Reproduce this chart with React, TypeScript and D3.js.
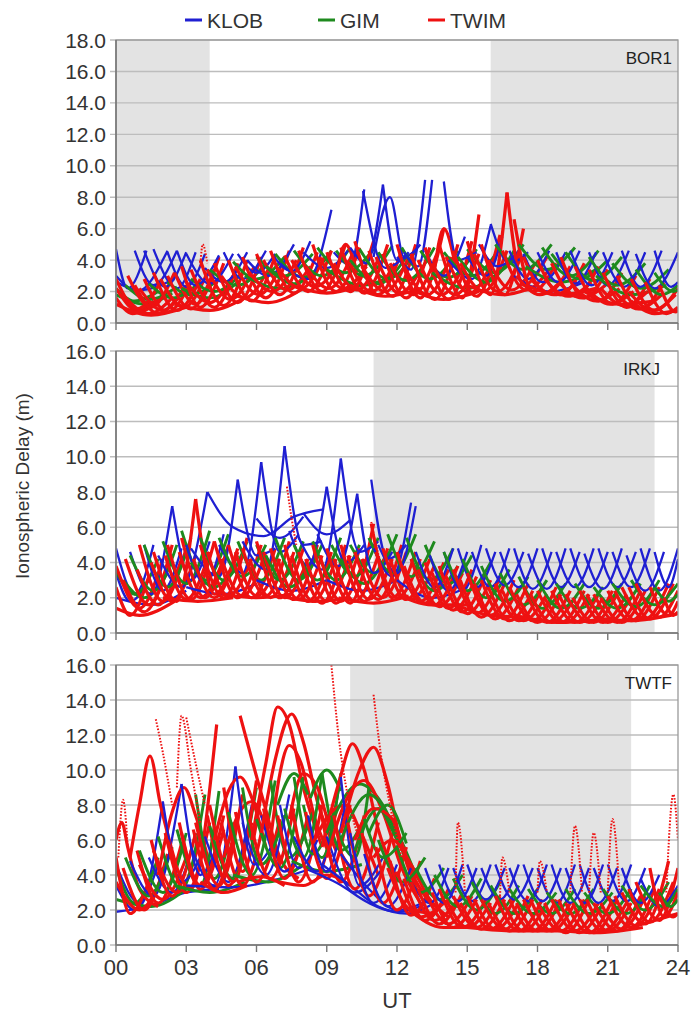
import React from "react";
import * as d3 from "d3";

// ---------- axis / layout data ----------
const X_TICKS = [0, 3, 6, 9, 12, 15, 18, 21, 24];
const X_TICK_LABELS = ["00", "03", "06", "09", "12", "15", "18", "21", "24"];
const Y_TICKS_18 = [0, 2, 4, 6, 8, 10, 12, 14, 16, 18];
const Y_TICKS_16 = [0, 2, 4, 6, 8, 10, 12, 14, 16];
const STATIONS = ["BOR1", "IRKJ", "TWTF"];
const SERIES = ["KLOB", "GIM", "TWIM"];
const SERIES_COLORS = ["#1f1fd2", "#1e8a1e", "#ee1111"];

// night-time shading (UT hours)
const BOR1_SHADE = [[0, 4], [16, 24]];
const IRKJ_SHADE = [[11, 23]];
const TWTF_SHADE = [[10, 22]];

// ---------- satellite arcs: [t, value, t, value, ...] ----------
const BOR1_KLOB = [
  [0.0, 4.7, 0.5, 2.2, 1.3, 4.6], [0.0, 3.0, 0.9, 2.0, 2.2, 4.6], [0.0, 2.6, 1.0, 2.1, 2.5, 2.8],
  [0.8, 4.6, 1.6, 2.4, 2.6, 4.6], [1.2, 4.6, 2.1, 2.3, 3.0, 4.5], [1.6, 4.7, 2.6, 2.2, 3.4, 4.5],
  [2.2, 4.5, 3.0, 2.3, 3.8, 4.4], [2.6, 4.6, 3.4, 2.4, 4.4, 4.3], [3.0, 4.4, 4.0, 2.5, 5.0, 4.4],
  [3.8, 3.5, 4.6, 2.6, 5.6, 4.5], [4.6, 4.5, 5.4, 2.8, 6.4, 4.6], [5.2, 4.4, 6.0, 3.2, 6.8, 4.4],
  [5.6, 4.0, 6.5, 3.0, 7.6, 5.0], [6.6, 4.5, 7.5, 3.3, 8.3, 5.2], [7.0, 3.8, 8.2, 2.8, 9.2, 7.2],
  [8.0, 4.5, 9.0, 3.5, 9.9, 4.6], [9.3, 4.5, 10.0, 3.7, 10.6, 8.5], [10.0, 4.8, 10.7, 3.8, 11.4, 8.8],
  [10.55, 8.4, 11.5, 3.5, 12.5, 4.5], [11.4, 8.8, 12.0, 4.0, 12.8, 4.6], [11.0, 4.2, 11.7, 8.0, 12.3, 4.2, 13.0, 5.0],
  [12.0, 4.2, 12.6, 3.4, 13.2, 9.1], [12.3, 4.5, 12.9, 3.6, 13.5, 9.1], [14.0, 9.0, 14.6, 4.0, 15.4, 4.5],
  [13.2, 4.6, 14.0, 3.0, 14.9, 5.5], [14.2, 4.0, 15.2, 2.8, 16.0, 6.2], [15.0, 4.2, 15.8, 3.0, 16.5, 5.5],
  [15.5, 5.0, 16.3, 3.6, 17.2, 4.6], [16.0, 6.3, 16.8, 3.8, 17.6, 4.5],
  [16.8, 4.6, 17.6, 2.8, 18.5, 4.6], [17.4, 4.4, 18.2, 2.6, 19.2, 4.5], [18.0, 4.5, 18.9, 2.6, 19.8, 4.6],
  [18.8, 4.5, 19.6, 2.5, 20.5, 4.5], [19.4, 4.6, 20.3, 2.4, 21.2, 4.5], [20.2, 4.5, 21.0, 2.4, 21.9, 4.6],
  [20.8, 4.5, 21.7, 2.3, 22.6, 4.5], [21.6, 4.6, 22.4, 2.3, 23.3, 4.6], [22.2, 4.4, 23.0, 2.2, 24.0, 4.5],
  [23.0, 4.6, 23.7, 2.3, 24.0, 2.6], [17.0, 3.0, 18.5, 2.0, 20.0, 2.6],
];
const BOR1_GIM = [
  [0.0, 2.2, 0.8, 1.4, 1.8, 2.0], [0.4, 2.4, 1.4, 1.5, 2.6, 2.3], [1.4, 2.5, 2.4, 1.6, 3.6, 2.6],
  [2.2, 2.6, 3.2, 1.8, 4.4, 2.8], [3.2, 2.8, 4.2, 2.0, 5.4, 3.2], [4.0, 3.4, 5.2, 2.4, 6.4, 3.8],
  [5.0, 3.9, 6.0, 2.8, 7.2, 4.2], [6.0, 4.2, 7.2, 3.0, 8.4, 4.4], [6.8, 4.4, 8.0, 2.9, 9.2, 4.6],
  [7.6, 4.6, 8.8, 3.0, 10.0, 4.8], [8.6, 4.8, 9.8, 3.2, 11.0, 4.7], [9.4, 4.6, 10.6, 3.0, 11.8, 4.9],
  [10.4, 4.7, 11.6, 2.8, 12.8, 4.6], [11.2, 4.5, 12.4, 2.7, 13.6, 4.8], [12.2, 4.8, 13.4, 2.8, 14.6, 4.6],
  [13.0, 4.6, 14.2, 2.9, 15.4, 4.7], [14.0, 4.5, 15.2, 3.0, 16.4, 4.8], [15.0, 4.7, 16.2, 3.2, 17.4, 5.0],
  [16.2, 5.0, 17.4, 3.4, 18.6, 5.0], [17.2, 5.0, 18.4, 3.4, 19.6, 4.8], [18.2, 4.8, 19.4, 3.0, 20.6, 4.6],
  [19.2, 4.5, 20.4, 2.7, 21.6, 4.2], [20.2, 4.2, 21.4, 2.4, 22.6, 3.8], [21.2, 3.8, 22.4, 2.2, 23.6, 3.4],
  [22.2, 3.4, 23.3, 1.8, 24.0, 2.4], [23.0, 3.2, 23.8, 2.0, 24.0, 2.1],
  [5.5, 3.0, 7.0, 2.2, 8.5, 3.2], [9.0, 3.4, 10.5, 2.4, 12.0, 3.2], [13.5, 3.2, 15.0, 2.2, 16.5, 3.4],
  [17.5, 3.6, 19.0, 2.6, 20.5, 3.4], [20.5, 3.0, 22.0, 1.8, 23.5, 2.4],
  [0.0, 1.8, 1.2, 1.2, 2.4, 1.9], [2.8, 2.2, 4.0, 1.6, 5.2, 2.6], [6.4, 3.6, 7.6, 2.5, 8.8, 3.8],
  [10.0, 4.0, 11.2, 2.5, 12.4, 4.2], [14.6, 4.2, 15.8, 2.6, 17.0, 4.6], [18.6, 4.4, 19.8, 2.8, 21.0, 4.0],
];
const BOR1_TWIM = [
  [0.0, 1.6, 0.7, 0.6, 1.6, 1.4], [0.0, 2.2, 1.0, 0.7, 2.0, 1.8], [0.3, 1.8, 1.4, 0.6, 2.4, 1.6],
  [0.8, 2.4, 1.8, 0.6, 2.8, 2.0], [1.2, 2.8, 2.2, 0.7, 3.2, 2.6], [1.6, 3.2, 2.6, 0.8, 3.6, 2.8],
  [2.2, 3.0, 3.2, 0.9, 4.2, 3.4], [2.8, 3.6, 3.6, 1.0, 4.6, 3.8], [3.2, 3.4, 4.2, 1.0, 5.2, 3.8],
  [3.6, 4.0, 4.6, 1.1, 5.6, 4.0], [4.2, 3.8, 5.2, 1.3, 6.2, 4.2], [4.8, 4.0, 5.8, 1.4, 6.8, 4.3],
  [5.4, 4.2, 6.4, 1.6, 7.4, 4.6], [6.0, 4.4, 7.0, 1.8, 8.0, 4.8], [6.6, 4.6, 7.6, 1.9, 8.6, 4.5],
  [7.2, 4.3, 8.2, 2.0, 9.2, 4.6], [7.8, 4.6, 8.8, 2.0, 9.8, 5.0], [8.4, 5.0, 9.4, 2.0, 10.4, 4.8],
  [9.0, 4.5, 10.0, 2.0, 11.0, 5.2], [9.6, 4.8, 10.6, 1.9, 11.6, 5.0], [10.2, 5.2, 11.2, 1.8, 12.2, 4.6],
  [10.8, 4.6, 11.8, 1.7, 12.8, 5.0], [11.4, 4.4, 12.4, 1.6, 13.4, 4.8], [12.0, 5.0, 13.0, 1.6, 14.0, 6.0],
  [12.6, 4.4, 13.6, 1.5, 14.6, 5.0], [13.2, 4.8, 14.2, 1.5, 15.2, 5.2], [13.8, 5.0, 14.8, 1.6, 15.5, 6.9],
  [14.4, 4.6, 15.4, 1.7, 16.4, 5.6], [15.0, 5.2, 16.0, 1.8, 16.7, 8.3], [15.6, 5.0, 16.6, 1.8, 17.4, 6.0],
  [16.7, 8.3, 17.4, 2.4, 18.4, 4.2], [17.0, 6.6, 17.8, 2.0, 18.8, 3.8],
  [17.4, 4.2, 18.4, 1.9, 19.4, 3.6], [18.0, 4.0, 19.0, 1.8, 20.0, 3.8], [18.6, 3.8, 19.6, 1.7, 20.6, 3.6],
  [19.0, 4.2, 20.0, 1.6, 21.0, 3.4], [19.6, 3.6, 20.6, 1.4, 21.6, 3.2], [20.2, 3.4, 21.2, 1.2, 22.2, 3.0],
  [20.8, 3.2, 21.8, 1.0, 22.8, 2.8], [21.4, 3.0, 22.4, 0.9, 23.4, 2.6], [22.0, 2.8, 23.0, 0.8, 24.0, 2.2],
  [22.6, 2.6, 23.5, 0.6, 24.0, 1.0], [23.2, 2.4, 23.9, 0.7, 24.0, 0.8],
  [0.0, 1.2, 1.5, 0.5, 3.0, 1.0], [2.5, 1.2, 4.0, 0.8, 5.5, 1.6], [5.0, 1.8, 6.5, 1.3, 8.0, 2.2],
  [7.5, 2.4, 9.0, 1.9, 10.5, 2.4], [10.0, 2.4, 11.5, 1.7, 13.0, 2.2], [12.5, 2.2, 14.0, 1.5, 15.5, 2.0],
  [15.0, 2.4, 16.5, 1.8, 18.0, 2.4], [17.5, 2.4, 19.0, 1.8, 20.5, 2.2], [20.0, 2.0, 21.5, 1.2, 23.0, 1.4],
  [22.0, 1.4, 23.0, 0.6, 24.0, 0.8],
];
const BOR1_TWIM_EXTRA = [
  [0.0, 2.8, 0.9, 0.9, 1.9, 2.6], [0.5, 3.0, 1.5, 1.0, 2.5, 3.2], [1.0, 2.2, 2.0, 0.8, 3.0, 2.4],
  [1.9, 2.8, 2.9, 1.0, 3.9, 3.2], [2.5, 3.2, 3.4, 1.2, 4.4, 4.2], [3.0, 2.6, 4.0, 1.3, 5.0, 3.0],
  [3.9, 3.4, 4.9, 1.5, 5.9, 3.6], [4.5, 3.0, 5.5, 1.6, 6.5, 3.4], [5.1, 3.6, 6.1, 1.8, 7.1, 3.8],
  [5.7, 3.2, 6.7, 2.0, 7.7, 4.0], [6.3, 4.0, 7.3, 2.1, 8.3, 3.6], [6.9, 3.5, 7.9, 2.2, 8.9, 4.2],
  [7.5, 4.0, 8.5, 2.3, 9.5, 3.8], [8.1, 3.6, 9.1, 2.2, 10.1, 4.4], [8.7, 4.2, 9.7, 2.2, 10.7, 3.6],
  [9.3, 3.8, 10.3, 2.1, 11.3, 4.4], [9.9, 4.0, 10.9, 2.0, 11.9, 3.8], [10.5, 3.6, 11.5, 2.0, 12.5, 4.2],
  [11.1, 4.2, 12.1, 1.9, 13.1, 3.6], [11.7, 3.8, 12.7, 1.8, 13.7, 4.4], [12.3, 3.6, 13.3, 1.8, 14.3, 4.2],
  [12.9, 4.0, 13.9, 1.8, 14.9, 3.8], [13.5, 3.8, 14.5, 1.8, 15.5, 4.4], [14.1, 4.2, 15.1, 1.9, 16.1, 4.0],
  [14.7, 3.8, 15.7, 2.0, 16.7, 4.6], [15.3, 4.4, 16.3, 2.0, 17.3, 4.2], [15.9, 4.0, 16.9, 2.1, 17.9, 3.8],
  [16.5, 4.6, 17.5, 2.1, 18.5, 3.4], [17.1, 3.0, 18.1, 1.8, 19.1, 2.8], [17.7, 2.8, 18.7, 1.8, 19.7, 2.6],
  [18.3, 2.8, 19.3, 1.7, 20.3, 2.6], [18.9, 2.6, 19.9, 1.6, 20.9, 2.4], [19.5, 2.4, 20.5, 1.4, 21.5, 2.2],
  [20.1, 2.2, 21.1, 1.2, 22.1, 2.0], [20.7, 2.2, 21.7, 1.1, 22.7, 2.0], [21.3, 2.0, 22.3, 0.9, 23.3, 1.8],
  [21.9, 2.0, 22.9, 0.8, 23.9, 1.8], [9.4, 3.0, 9.8, 5.0, 10.3, 3.2], [13.6, 3.4, 14.0, 6.0, 14.5, 3.6],
];
const BOR1_TWIM_DOTTED = [[3.6, 3.6, 3.7, 5.0, 3.9, 3.8]];

const IRKJ_KLOB = [
  [0.0, 4.8, 0.8, 2.2, 1.6, 5.0], [0.0, 3.4, 0.6, 1.8, 1.4, 3.0], [0.6, 4.6, 1.5, 2.2, 2.4, 7.2],
  [1.2, 5.0, 2.0, 2.4, 2.8, 4.8], [1.8, 4.4, 2.8, 2.6, 3.9, 8.0], [2.4, 7.2, 3.2, 3.0, 4.0, 5.2],
  [3.0, 5.0, 3.8, 2.8, 4.6, 5.6], [3.2, 4.8, 4.4, 3.2, 5.2, 8.7], [4.4, 5.0, 5.4, 3.4, 6.2, 9.7],
  [5.2, 8.7, 6.0, 4.4, 6.8, 4.8], [6.2, 9.7, 7.0, 4.6, 7.8, 5.6], [5.4, 5.2, 6.4, 3.6, 7.2, 10.6],
  [7.2, 10.6, 8.0, 5.0, 8.8, 5.2], [7.4, 5.8, 8.2, 3.8, 9.0, 8.3], [7.8, 5.4, 8.8, 3.6, 9.6, 9.9],
  [9.6, 9.9, 10.4, 4.6, 11.2, 5.2], [9.0, 8.3, 9.8, 4.0, 10.6, 5.0], [8.6, 5.6, 9.5, 3.8, 10.3, 7.9],
  [10.3, 7.9, 11.0, 3.4, 11.8, 4.6], [10.9, 8.7, 11.6, 4.2, 12.4, 5.0], [11.0, 4.8, 11.8, 3.2, 12.6, 7.4],
  [11.2, 5.0, 12.0, 3.4, 12.8, 7.2], [3.9, 8.0, 5.0, 6.0, 6.3, 5.5, 7.6, 6.6, 8.8, 7.0],
  [6.0, 6.5, 7.0, 5.4, 8.0, 6.6], [8.0, 6.8, 9.0, 5.6, 10.0, 6.4],
  [0.0, 2.0, 1.5, 1.6, 3.0, 2.4], [3.0, 2.6, 4.5, 2.2, 6.0, 2.8], [6.0, 3.0, 7.5, 2.4, 9.0, 3.0],
  [9.0, 3.0, 10.5, 2.4, 12.0, 3.0], [12.0, 3.0, 13.5, 2.0, 15.0, 2.6],
  [12.8, 4.6, 13.6, 2.6, 14.4, 4.8], [13.4, 4.4, 14.2, 2.4, 15.0, 4.6], [14.0, 4.6, 14.8, 2.4, 15.6, 5.0],
  [14.6, 4.8, 15.4, 2.6, 16.2, 4.6], [15.2, 4.6, 16.0, 2.6, 16.8, 4.8], [15.8, 4.8, 16.6, 2.7, 17.4, 4.6],
  [16.4, 4.6, 17.2, 2.6, 18.0, 4.8], [17.0, 4.8, 17.8, 2.5, 18.6, 4.6], [17.6, 4.5, 18.4, 2.5, 19.2, 4.8],
  [18.2, 4.8, 19.0, 2.6, 19.8, 4.6], [18.8, 4.6, 19.6, 2.6, 20.4, 4.8], [19.4, 4.8, 20.2, 2.6, 21.0, 4.6],
  [20.0, 4.5, 20.8, 2.5, 21.6, 4.8], [20.6, 4.8, 21.4, 2.6, 22.2, 4.6], [21.2, 4.6, 22.0, 2.6, 22.8, 4.8],
  [21.8, 4.4, 22.6, 2.4, 23.4, 4.6], [22.4, 4.8, 23.2, 2.4, 24.0, 4.8], [23.0, 4.6, 23.6, 2.6, 24.0, 4.2],
];
const IRKJ_GIM = [
  [0.0, 3.5, 0.8, 2.2, 1.8, 4.2], [0.6, 4.4, 1.6, 2.4, 2.6, 5.0], [1.2, 5.0, 2.2, 2.6, 3.2, 5.4],
  [2.0, 5.2, 3.0, 2.8, 4.0, 5.8], [2.8, 5.8, 3.8, 3.0, 4.8, 5.6], [3.6, 5.4, 4.6, 3.0, 5.6, 5.2],
  [4.4, 5.4, 5.4, 3.2, 6.4, 5.0], [5.2, 5.2, 6.2, 3.0, 7.2, 5.4], [6.0, 5.0, 7.0, 3.0, 8.0, 5.2],
  [6.8, 5.4, 7.8, 3.0, 8.8, 5.0], [7.6, 5.0, 8.6, 3.0, 9.6, 5.4], [8.4, 5.2, 9.4, 3.0, 10.4, 5.0],
  [9.2, 5.0, 10.2, 3.2, 11.2, 5.4], [10.0, 5.0, 11.0, 3.4, 12.0, 5.6], [10.8, 5.4, 11.8, 3.4, 12.8, 5.6],
  [11.6, 5.6, 12.6, 3.2, 13.6, 5.2], [12.4, 5.4, 13.4, 3.0, 14.4, 4.8], [13.2, 5.0, 14.2, 2.8, 15.2, 4.4],
  [14.0, 4.6, 15.0, 2.4, 16.0, 4.0], [14.8, 4.2, 15.8, 2.0, 16.8, 3.6], [15.6, 3.8, 16.6, 1.8, 17.6, 3.2],
  [16.4, 3.4, 17.4, 1.6, 18.4, 3.0], [17.2, 3.2, 18.2, 1.4, 19.2, 2.8], [18.0, 3.0, 19.0, 1.4, 20.0, 2.8],
  [18.8, 2.8, 19.8, 1.4, 20.8, 2.6], [19.6, 2.8, 20.6, 1.4, 21.6, 2.8], [20.4, 2.6, 21.4, 1.4, 22.4, 2.8],
  [21.2, 2.8, 22.2, 1.5, 23.2, 3.0], [22.0, 3.0, 23.0, 1.6, 24.0, 2.8], [23.0, 2.6, 23.6, 1.8, 24.0, 2.2],
  [0.3, 3.0, 1.2, 2.0, 2.2, 3.4], [3.2, 4.0, 4.2, 2.6, 5.2, 4.4], [6.4, 4.4, 7.4, 2.6, 8.4, 4.2],
  [9.6, 4.2, 10.6, 2.8, 11.6, 4.6], [12.6, 4.2, 13.6, 2.4, 14.6, 3.8],
];
const IRKJ_TWIM = [
  [0.0, 2.6, 0.6, 1.0, 1.4, 3.2], [0.0, 3.8, 1.0, 1.4, 2.0, 4.2], [0.4, 4.2, 1.4, 1.6, 2.4, 5.0],
  [1.0, 5.0, 2.0, 1.8, 3.0, 4.8], [1.6, 4.6, 2.6, 1.8, 3.4, 7.6], [2.2, 5.0, 3.2, 1.9, 4.2, 5.2],
  [2.8, 5.4, 3.8, 2.0, 4.8, 5.0], [3.4, 7.6, 4.2, 2.2, 5.2, 4.8], [3.6, 5.0, 4.6, 2.0, 5.6, 5.4],
  [4.2, 5.2, 5.2, 2.0, 6.2, 5.0], [4.8, 5.0, 5.8, 2.0, 6.8, 4.8], [5.4, 4.8, 6.4, 2.1, 7.4, 5.2],
  [6.0, 5.2, 7.0, 2.0, 8.0, 4.8], [6.6, 4.8, 7.6, 1.9, 8.6, 5.0], [7.2, 5.0, 8.2, 1.8, 9.2, 4.6],
  [7.8, 4.6, 8.8, 1.7, 9.8, 5.0], [8.4, 5.0, 9.4, 1.7, 10.4, 4.8], [9.0, 4.8, 10.0, 1.7, 11.0, 6.2],
  [9.6, 5.0, 10.6, 1.8, 11.6, 4.8], [10.2, 4.6, 11.2, 1.9, 12.2, 5.0], [10.9, 6.2, 11.8, 2.0, 12.8, 4.6],
  [11.4, 4.8, 12.4, 1.9, 13.4, 4.2], [12.0, 4.6, 13.0, 1.8, 14.0, 4.0], [12.6, 4.2, 13.6, 1.6, 14.6, 3.8],
  [13.2, 4.0, 14.2, 1.4, 15.2, 3.6], [13.8, 3.8, 14.8, 1.2, 15.8, 3.4], [14.4, 3.6, 15.4, 1.1, 16.4, 3.2],
  [15.0, 3.4, 16.0, 1.0, 17.0, 3.0], [15.6, 3.0, 16.6, 0.8, 17.6, 2.8], [16.2, 2.8, 17.2, 0.7, 18.2, 2.6],
  [16.8, 2.6, 17.8, 0.7, 18.8, 2.6], [17.4, 2.6, 18.4, 0.6, 19.4, 2.4], [18.0, 2.4, 19.0, 0.6, 20.0, 2.4],
  [18.6, 2.4, 19.6, 0.6, 20.6, 2.2], [19.2, 2.2, 20.2, 0.6, 21.2, 2.4], [19.8, 2.4, 20.8, 0.6, 21.8, 2.2],
  [20.4, 2.2, 21.4, 0.6, 22.4, 2.4], [21.0, 2.4, 22.0, 0.7, 23.0, 2.6], [21.6, 2.6, 22.6, 0.8, 23.6, 2.8],
  [22.2, 2.8, 23.2, 0.9, 24.0, 2.4], [22.8, 2.6, 23.6, 1.0, 24.0, 1.8], [23.4, 2.0, 23.8, 1.0, 24.0, 1.2],
  [0.0, 1.4, 1.0, 1.0, 2.5, 1.8], [2.0, 2.0, 3.5, 1.8, 5.0, 2.0], [4.5, 2.2, 6.0, 2.0, 7.5, 2.2],
  [7.0, 2.1, 8.5, 1.8, 10.0, 2.0], [9.5, 2.0, 11.0, 1.7, 12.5, 2.1], [12.0, 2.2, 13.5, 1.6, 15.0, 1.6],
  [14.5, 1.6, 16.0, 1.0, 17.5, 0.9], [17.0, 1.0, 19.0, 0.6, 21.0, 0.8], [20.5, 0.8, 22.0, 0.7, 24.0, 1.1],
];
const IRKJ_TWIM_EXTRA = [
  [0.3, 3.0, 1.2, 1.2, 2.2, 3.6], [0.9, 3.6, 1.8, 1.6, 2.8, 4.2], [1.5, 4.0, 2.4, 1.8, 3.4, 4.4],
  [2.1, 4.4, 3.0, 1.9, 4.0, 4.6], [2.7, 4.6, 3.6, 2.0, 4.6, 4.2], [3.3, 4.2, 4.2, 2.0, 5.2, 4.6],
  [3.9, 4.6, 4.8, 2.1, 5.8, 4.2], [4.5, 4.2, 5.4, 2.1, 6.4, 4.6], [5.1, 4.6, 6.0, 2.1, 7.0, 4.2],
  [5.7, 4.2, 6.6, 2.0, 7.6, 4.6], [6.3, 4.6, 7.2, 2.0, 8.2, 4.2], [6.9, 4.2, 7.8, 1.9, 8.8, 4.4],
  [7.5, 4.4, 8.4, 1.8, 9.4, 4.2], [8.1, 4.2, 9.0, 1.8, 10.0, 4.4], [8.7, 4.4, 9.6, 1.8, 10.6, 4.2],
  [9.3, 4.2, 10.2, 1.8, 11.2, 4.4], [9.9, 4.4, 10.8, 1.9, 11.8, 4.2], [10.5, 4.2, 11.4, 2.0, 12.4, 4.6],
  [11.1, 4.6, 12.0, 2.0, 13.0, 4.2], [11.7, 4.2, 12.6, 1.9, 13.6, 3.8], [12.3, 3.8, 13.2, 1.7, 14.2, 3.6],
  [12.9, 3.6, 13.8, 1.5, 14.8, 3.4], [13.5, 3.4, 14.4, 1.3, 15.4, 3.2], [14.1, 3.2, 15.0, 1.1, 16.0, 3.0],
  [14.7, 3.0, 15.6, 0.9, 16.6, 2.8], [15.3, 2.8, 16.2, 0.8, 17.2, 2.6], [15.9, 2.6, 16.8, 0.7, 17.8, 2.4],
  [16.5, 2.4, 17.4, 0.7, 18.4, 2.2], [17.1, 2.2, 18.0, 0.6, 19.0, 2.2], [17.7, 2.2, 18.6, 0.6, 19.6, 2.0],
  [18.3, 2.0, 19.2, 0.6, 20.2, 2.2], [18.9, 2.2, 19.8, 0.6, 20.8, 2.0], [19.5, 2.0, 20.4, 0.6, 21.4, 2.2],
  [20.1, 2.2, 21.0, 0.6, 22.0, 2.0], [20.7, 2.0, 21.6, 0.6, 22.6, 2.4], [21.3, 2.4, 22.2, 0.7, 23.2, 2.6],
  [21.9, 2.6, 22.8, 0.8, 23.8, 2.8],
];
const IRKJ_TWIM_DOTTED = [[7.3, 8.3, 7.5, 6.5, 7.7, 5.0], [10.9, 6.3, 11.1, 5.0, 11.3, 4.0]];

const TWTF_KLOB = [
  [0.0, 3.4, 0.8, 2.0, 1.8, 4.6], [0.0, 4.6, 1.0, 2.4, 2.0, 8.2], [0.6, 4.8, 1.6, 2.8, 2.8, 9.2],
  [1.4, 5.0, 2.4, 3.0, 3.4, 6.4], [2.0, 8.2, 2.8, 3.6, 3.8, 5.6], [2.8, 9.2, 3.6, 4.0, 4.4, 6.0],
  [3.2, 5.6, 4.2, 3.4, 5.1, 10.2], [3.8, 6.2, 4.8, 3.6, 5.8, 8.0], [5.1, 10.2, 5.9, 4.6, 6.8, 6.0],
  [5.4, 7.0, 6.4, 4.0, 7.4, 8.6], [6.2, 7.4, 7.2, 4.2, 8.2, 7.0], [7.0, 8.0, 7.8, 4.4, 8.6, 6.0],
  [7.6, 6.2, 8.6, 4.2, 9.6, 9.6], [8.2, 7.4, 9.0, 4.2, 9.8, 8.2], [9.6, 9.6, 10.4, 3.4, 11.4, 5.0],
  [9.0, 6.2, 10.2, 3.0, 11.4, 4.4], [10.0, 6.4, 11.0, 2.4, 12.0, 4.6], [10.6, 5.2, 11.6, 2.2, 12.6, 4.4],
  [3.0, 3.4, 5.0, 3.3, 7.0, 3.8, 8.2, 4.3], [8.2, 4.3, 9.5, 3.5, 10.8, 2.4, 12.0, 1.9, 13.2, 2.3],
  [8.8, 4.6, 10.0, 3.4, 11.2, 2.2, 12.4, 1.8, 13.6, 2.4], [9.6, 5.2, 10.8, 3.2, 12.0, 2.0, 13.4, 2.6],
  [0.0, 1.9, 1.4, 2.2, 3.0, 3.0, 4.4, 3.2],
  [12.6, 3.6, 13.4, 2.4, 14.2, 4.4], [13.2, 4.4, 14.0, 2.4, 14.8, 4.6], [13.8, 4.6, 14.6, 2.5, 15.4, 4.4],
  [14.4, 4.4, 15.2, 2.5, 16.0, 4.6], [15.0, 4.6, 15.8, 2.6, 16.6, 4.4], [15.6, 4.4, 16.4, 2.6, 17.2, 4.6],
  [16.2, 4.6, 17.0, 2.6, 17.8, 4.4], [16.8, 4.4, 17.6, 2.5, 18.4, 4.6], [17.4, 4.6, 18.2, 2.5, 19.0, 4.4],
  [18.0, 4.4, 18.8, 2.4, 19.6, 4.6], [18.6, 4.6, 19.4, 2.4, 20.2, 4.4], [19.2, 4.4, 20.0, 2.4, 20.8, 4.6],
  [19.8, 4.6, 20.6, 2.4, 21.4, 4.4], [20.4, 4.4, 21.2, 2.5, 22.0, 4.6], [21.0, 4.6, 21.8, 2.5, 22.6, 4.4],
  [21.6, 4.4, 22.4, 2.4, 23.2, 4.0], [22.4, 3.8, 23.2, 2.2, 24.0, 3.4],
];
const TWTF_GIM = [
  [0.0, 4.4, 0.8, 2.4, 1.8, 5.0], [0.4, 5.0, 1.4, 2.8, 2.4, 5.6], [1.0, 5.4, 2.0, 3.0, 3.0, 6.4],
  [1.8, 6.2, 2.8, 3.2, 3.8, 8.6], [2.6, 6.6, 3.6, 3.4, 4.4, 8.8], [3.4, 8.6, 4.2, 3.8, 5.0, 7.0],
  [4.0, 6.8, 5.0, 3.8, 6.0, 9.0], [4.8, 7.6, 5.8, 4.0, 6.8, 9.4], [5.4, 9.0, 6.2, 4.6, 7.2, 7.4],
  [6.0, 7.2, 7.0, 4.4, 8.0, 9.6], [6.6, 9.4, 7.4, 5.0, 8.4, 7.6], [7.2, 7.8, 8.0, 5.0, 8.8, 9.8],
  [7.6, 9.6, 8.4, 5.2, 9.4, 8.0], [8.0, 8.0, 8.8, 5.0, 9.6, 9.8], [8.8, 9.8, 9.6, 5.4, 10.6, 7.2],
  [9.2, 7.4, 10.2, 5.0, 10.8, 9.0],
  [9.0, 6.4, 10.4, 9.2, 11.4, 8.0, 12.4, 5.0, 13.0, 3.6], [9.6, 6.0, 10.8, 8.6, 11.8, 7.0, 12.8, 4.0],
  [10.2, 5.4, 11.2, 7.8, 12.0, 6.0, 12.8, 3.8], [10.6, 7.2, 11.4, 5.0, 12.4, 6.4],
  [11.2, 6.0, 12.2, 3.6, 13.2, 5.0], [12.0, 5.6, 13.0, 3.0, 14.0, 4.4], [12.8, 4.4, 13.8, 2.6, 14.8, 4.0],
  [13.6, 4.0, 14.6, 2.2, 15.6, 3.8], [14.4, 3.8, 15.4, 2.0, 16.4, 3.6], [15.2, 3.6, 16.2, 1.8, 17.2, 3.4],
  [16.0, 3.4, 17.0, 1.8, 18.0, 3.2], [16.8, 3.2, 17.8, 1.8, 18.8, 3.0], [17.6, 3.2, 18.6, 1.8, 19.6, 3.2],
  [18.4, 3.0, 19.4, 1.8, 20.4, 3.2], [19.2, 3.2, 20.2, 1.8, 21.2, 3.0], [20.0, 3.0, 21.0, 1.8, 22.0, 3.2],
  [20.8, 3.2, 21.8, 1.8, 22.8, 3.4], [21.6, 3.4, 22.6, 2.0, 23.6, 3.6], [22.4, 3.4, 23.4, 2.2, 24.0, 3.2],
  [23.2, 3.0, 23.7, 2.2, 24.0, 2.6],
  [0.0, 2.6, 1.5, 2.2, 3.0, 3.2], [2.5, 3.4, 4.0, 3.0, 5.5, 3.6], [5.0, 4.0, 6.5, 3.6, 8.0, 4.6],
  [7.5, 4.8, 9.0, 4.2, 10.5, 4.6],
  [6.9, 8.0, 7.6, 9.8, 8.2, 8.6], [8.3, 8.4, 9.0, 10.0, 9.6, 8.8], [10.8, 6.4, 11.6, 8.0, 12.4, 5.8],
];
const TWTF_TWIM = [
  [0.0, 5.0, 0.6, 1.8, 1.4, 3.6], [0.0, 6.0, 0.25, 7.0, 0.5, 5.6, 1.0, 3.2, 1.8, 2.2],
  [0.0, 3.6, 1.0, 2.0, 2.0, 4.0], [0.6, 5.0, 1.0, 8.0, 1.45, 10.8, 1.9, 8.0, 2.6, 4.4],
  [1.0, 4.6, 2.0, 2.6, 3.0, 5.0], [1.6, 5.4, 2.6, 3.0, 3.6, 6.0], [2.2, 6.0, 3.2, 3.2, 4.3, 12.6],
  [2.8, 6.4, 3.6, 3.4, 4.6, 7.4], [3.4, 7.0, 4.4, 3.4, 5.4, 8.6], [4.0, 8.0, 5.0, 3.6, 6.0, 9.4],
  [1.8, 4.0, 2.4, 7.6, 2.9, 9.0, 3.4, 7.4, 4.0, 4.6],
  [5.3, 13.1, 6.3, 8.2, 7.0, 5.0, 7.8, 3.8], [4.6, 9.0, 5.4, 4.2, 6.2, 8.6],
  [4.2, 6.0, 4.8, 8.8, 5.3, 9.6, 5.8, 8.4, 6.4, 5.6], [4.6, 5.0, 5.2, 7.4, 5.8, 8.2, 6.4, 6.8, 7.0, 4.6],
  [5.8, 6.0, 6.4, 10.4, 6.9, 13.6, 7.4, 12.6, 8.0, 9.0, 8.8, 5.6],
  [6.2, 6.4, 6.8, 10.6, 7.5, 13.2, 8.0, 11.6, 8.6, 8.2, 9.4, 5.4],
  [6.6, 6.0, 7.0, 9.8, 7.4, 11.4, 7.9, 10.4, 8.5, 7.2, 9.2, 5.0],
  [7.4, 7.2, 8.0, 9.8, 8.6, 9.0, 9.2, 6.4, 10.0, 4.4],
  [8.8, 5.6, 9.5, 9.2, 10.1, 11.5, 10.6, 10.0, 11.2, 6.6, 12.0, 3.8],
  [9.6, 6.4, 10.4, 10.0, 11.0, 11.3, 11.6, 9.2, 12.2, 5.6, 12.9, 3.0],
  [9.0, 5.0, 9.8, 8.2, 10.6, 9.4, 11.4, 7.6, 12.2, 4.4, 13.0, 2.4],
  [8.4, 5.8, 9.2, 7.6, 9.8, 8.0, 10.4, 6.6, 11.2, 4.0],
  [10.2, 6.0, 11.0, 7.8, 11.8, 7.2, 12.6, 4.2, 13.4, 2.4],
  [11.0, 5.0, 11.8, 6.0, 12.6, 4.6, 13.4, 2.6, 14.2, 1.6],
  [3.6, 3.6, 4.6, 3.0, 5.6, 3.4], [5.2, 3.6, 6.2, 3.9, 7.2, 3.4], [7.0, 3.6, 8.0, 3.4, 9.0, 4.0, 10.0, 3.4],
  [11.6, 4.4, 12.6, 2.0, 13.6, 1.8], [12.0, 4.2, 13.0, 1.6, 14.0, 2.4], [12.6, 3.6, 13.6, 1.4, 14.6, 2.6],
  [13.2, 3.0, 14.2, 1.2, 15.2, 2.8], [13.8, 3.2, 14.8, 1.0, 15.8, 2.6], [14.4, 2.8, 15.4, 1.0, 16.4, 2.8],
  [15.0, 2.8, 16.0, 0.9, 17.0, 2.6], [15.6, 2.6, 16.6, 0.9, 17.6, 2.8], [16.2, 2.8, 17.2, 0.8, 18.2, 2.6],
  [16.8, 2.6, 17.8, 0.8, 18.8, 2.6], [17.4, 2.6, 18.4, 0.8, 19.4, 2.4], [18.0, 2.4, 19.0, 0.8, 20.0, 2.6],
  [18.6, 2.6, 19.6, 0.8, 20.6, 2.4], [19.2, 2.4, 20.2, 0.7, 21.2, 2.6], [19.8, 2.6, 20.8, 0.8, 21.8, 2.4],
  [20.4, 2.4, 21.4, 0.8, 22.4, 2.8], [21.0, 2.8, 22.0, 1.0, 23.0, 3.2], [21.6, 3.0, 22.6, 1.2, 23.6, 4.8],
  [22.2, 3.6, 23.2, 1.4, 24.0, 4.4], [22.8, 4.4, 23.4, 1.6, 24.0, 3.0], [23.2, 2.8, 23.8, 1.6, 24.0, 1.8],
  [12.5, 2.0, 14.0, 1.0, 15.5, 1.0], [15.0, 1.0, 17.0, 0.8, 19.0, 0.8], [18.5, 0.9, 20.5, 0.7, 22.5, 1.0],
  [22.0, 1.0, 23.0, 1.4, 24.0, 1.8],
];
const TWTF_TWIM_EXTRA = [
  [0.3, 4.4, 1.2, 2.0, 2.2, 5.2], [0.9, 5.4, 1.8, 2.4, 2.8, 5.8], [1.5, 6.0, 2.4, 2.8, 3.4, 6.4],
  [2.1, 6.4, 3.0, 3.0, 4.0, 7.0], [2.7, 7.0, 3.6, 3.2, 4.6, 6.6], [3.3, 6.6, 4.2, 3.2, 5.2, 7.4],
  [3.9, 7.4, 4.8, 3.4, 5.8, 7.0], [4.5, 7.0, 5.4, 3.4, 6.4, 7.6], [5.1, 7.6, 6.0, 3.6, 7.0, 7.2],
  [5.7, 7.2, 6.6, 3.8, 7.6, 7.8], [6.3, 7.8, 7.2, 3.8, 8.2, 7.4], [6.9, 7.4, 7.8, 3.6, 8.8, 8.0],
  [7.5, 8.0, 8.4, 3.6, 9.4, 7.6], [8.1, 7.6, 9.0, 3.8, 10.0, 8.0], [8.7, 8.0, 9.6, 3.6, 10.6, 7.4],
  [9.3, 7.4, 10.2, 3.2, 11.2, 7.0], [9.9, 7.0, 10.8, 2.8, 11.8, 6.4], [10.5, 6.4, 11.4, 2.4, 12.4, 5.6],
  [11.1, 5.6, 12.0, 2.0, 13.0, 4.8], [11.7, 4.8, 12.6, 1.7, 13.6, 3.8], [12.3, 3.8, 13.2, 1.4, 14.2, 3.2],
  [12.9, 3.2, 13.8, 1.2, 14.8, 3.0],
  [13.5, 3.0, 14.4, 1.0, 15.4, 2.6], [14.1, 2.6, 15.0, 1.0, 16.0, 2.4], [14.7, 2.4, 15.6, 0.9, 16.6, 2.6],
  [15.3, 2.6, 16.2, 0.9, 17.2, 2.4], [15.9, 2.4, 16.8, 0.8, 17.8, 2.6], [16.5, 2.6, 17.4, 0.8, 18.4, 2.4],
  [17.1, 2.4, 18.0, 0.8, 19.0, 2.6], [17.7, 2.6, 18.6, 0.8, 19.6, 2.4], [18.3, 2.4, 19.2, 0.7, 20.2, 2.6],
  [18.9, 2.6, 19.8, 0.7, 20.8, 2.4], [19.5, 2.4, 20.4, 0.7, 21.4, 2.6], [20.1, 2.6, 21.0, 0.8, 22.0, 2.4],
  [20.7, 2.4, 21.6, 0.9, 22.6, 2.8], [21.3, 2.8, 22.2, 1.1, 23.2, 3.2], [21.9, 3.2, 22.8, 1.3, 23.8, 3.6],
];
const TWTF_TWIM_DOTTED = [
  [0.1, 5.0, 0.3, 8.3, 0.5, 5.6], [1.7, 12.9, 2.0, 11.0, 2.4, 8.0], [2.6, 9.0, 2.8, 13.1, 3.2, 10.0, 3.6, 7.0],
  [3.0, 13.0, 3.4, 10.4, 3.8, 8.0], [9.2, 16.0, 9.5, 12.0, 9.9, 8.5, 10.4, 6.0],
  [11.0, 14.3, 11.3, 11.0, 11.7, 8.0, 12.2, 5.0], [14.5, 3.0, 14.6, 7.0, 14.9, 3.0],
  [16.4, 2.8, 16.5, 5.0, 16.8, 3.0], [18.0, 3.0, 18.1, 4.8, 18.4, 3.0], [19.4, 3.0, 19.6, 6.8, 19.9, 3.0],
  [20.2, 3.0, 20.4, 6.4, 20.7, 3.0], [21.0, 3.0, 21.2, 7.2, 21.5, 3.0], [23.5, 3.0, 23.8, 8.6, 24.0, 6.0],
];

const PANEL_DATA = [
  {
    yMax: 18, yTicks: Y_TICKS_18, shade: BOR1_SHADE,
    arcs: [BOR1_KLOB, BOR1_GIM, BOR1_TWIM.concat(BOR1_TWIM_EXTRA)], dotted: BOR1_TWIM_DOTTED,
  },
  {
    yMax: 16, yTicks: Y_TICKS_16, shade: IRKJ_SHADE,
    arcs: [IRKJ_KLOB, IRKJ_GIM, IRKJ_TWIM.concat(IRKJ_TWIM_EXTRA)], dotted: IRKJ_TWIM_DOTTED,
  },
  {
    yMax: 16, yTicks: Y_TICKS_16, shade: TWTF_SHADE,
    arcs: [TWTF_KLOB, TWTF_GIM, TWTF_TWIM.concat(TWTF_TWIM_EXTRA)], dotted: TWTF_TWIM_DOTTED,
  },
];

// ---------- layout ----------
const W = 694;
const H = 1021;
const X0 = 116;
const X1 = 678;
const PANEL_Y = [
  [40, 323],
  [351, 633],
  [665, 945],
];
const FONT = "'Liberation Sans', Arial, sans-serif";
const LINE_WIDTHS = [2.3, 2.9, 3.2];

function toPairs(flat: number[]): [number, number][] {
  const out: [number, number][] = [];
  for (let i = 0; i < flat.length; i += 2) out.push([flat[i], flat[i + 1]]);
  return out;
}

function Panel({ idx }: { idx: number }) {
  const p = PANEL_DATA[idx];
  const [top, bottom] = PANEL_Y[idx];
  const x = d3.scaleLinear().domain([0, 24]).range([X0, X1]);
  const y = d3.scaleLinear().domain([0, p.yMax]).range([bottom, top]);
  const line = d3
    .line<[number, number]>()
    .x((d) => x(d[0]))
    .y((d) => y(d[1]))
    .curve(d3.curveMonotoneX);
  const clipId = `clip-${idx}`;
  const fmt = d3.format(".1f");
  // draw arcs in time order so that the three models interleave like the original plot
  const all: { s: number; arc: number[]; k: number }[] = [];
  p.arcs.forEach((series, si) => series.forEach((arc, k) => all.push({ s: si, arc, k })));
  all.sort((a, b) => a.arc[0] - b.arc[0] || a.s - b.s);
  return (
    <g>
      <defs>
        <clipPath id={clipId}>
          <rect x={X0} y={top} width={X1 - X0} height={bottom - top} />
        </clipPath>
      </defs>
      {p.shade.map(([a, b], i) => (
        <rect key={i} x={x(a)} y={top} width={x(b) - x(a)} height={bottom - top} fill="#e3e3e3" />
      ))}
      {p.yTicks.map((t) => (
        <line key={t} x1={X0 - 6} x2={X1} y1={y(t)} y2={y(t)} stroke="#bdbdbd" strokeWidth={1.4} />
      ))}
      {p.yTicks.map((t) => (
        <text
          key={"l" + t}
          x={X0 - 10}
          y={y(t)}
          textAnchor="end"
          dominantBaseline="central"
          fontSize={21}
          fill="#333"
          fontFamily={FONT}
        >
          {fmt(t)}
        </text>
      ))}
      <g clipPath={`url(#${clipId})`}>
        {all.map(({ s, arc, k }) => (
          <path
            key={s + "-" + k}
            d={line(toPairs(arc)) || ""}
            fill="none"
            stroke={SERIES_COLORS[s]}
            strokeWidth={LINE_WIDTHS[s]}
            strokeLinejoin="round"
          />
        ))}
        {p.dotted.map((arc, ai) => (
          <path
            key={"d" + ai}
            d={line(toPairs(arc)) || ""}
            fill="none"
            stroke={SERIES_COLORS[2]}
            strokeWidth={2}
            strokeDasharray="1.6 1.6"
          />
        ))}
      </g>
      <rect x={X0} y={top} width={X1 - X0} height={bottom - top} fill="none" stroke="#9a9a9a" strokeWidth={1.3} />
      <line x1={X0} x2={X0} y1={top} y2={bottom} stroke="#777" strokeWidth={1.6} />
      <line x1={X0} x2={X1} y1={bottom} y2={bottom} stroke="#777" strokeWidth={1.6} />
      {X_TICKS.map((t) => (
        <line key={"xt" + t} x1={x(t)} x2={x(t)} y1={bottom} y2={bottom + 7} stroke="#777" strokeWidth={1.4} />
      ))}
      <text
        x={idx === 1 ? 660 : 672}
        y={top + 24}
        textAnchor="end"
        fontSize={17}
        fill="#222"
        fontFamily={FONT}
      >
        {STATIONS[idx]}
      </text>
      {idx === 2 &&
        X_TICKS.map((t, i) => (
          <text
            key={"xl" + t}
            x={x(t)}
            y={bottom + 30}
            textAnchor="middle"
            fontSize={22}
            fill="#333"
            fontFamily={FONT}
          >
            {X_TICK_LABELS[i]}
          </text>
        ))}
    </g>
  );
}

export default function App() {
  const legendX = [185, 318, 428];
  return (
    <svg width={W} height={H} style={{ position: "absolute", left: 0, top: 0, background: "#fff" }}>
      <rect x={0} y={0} width={W} height={H} fill="#fff" />
      {SERIES.map((s, i) => (
        <g key={s}>
          <line x1={legendX[i]} x2={legendX[i] + 17} y1={20} y2={20} stroke={SERIES_COLORS[i]} strokeWidth={3} />
          <text x={legendX[i] + 22} y={20} dominantBaseline="central" fontSize={21} fill="#333" fontFamily={FONT}>
            {s}
          </text>
        </g>
      ))}
      {[0, 1, 2].map((i) => (
        <Panel key={i} idx={i} />
      ))}
      <text
        transform="translate(22,486) rotate(-90)"
        textAnchor="middle"
        dominantBaseline="central"
        fontSize={19}
        fill="#333"
        fontFamily={FONT}
      >
        Ionospheric Delay (m)
      </text>
      <text x={397} y={1008} textAnchor="middle" fontSize={22} fill="#333" fontFamily={FONT}>
        UT
      </text>
    </svg>
  );
}
